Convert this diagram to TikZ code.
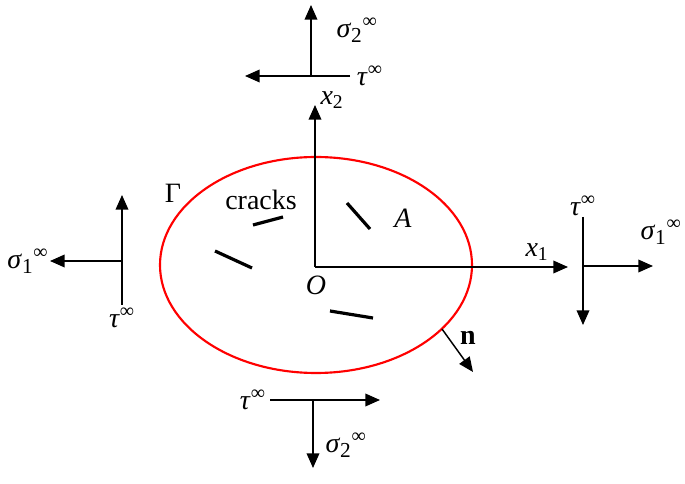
\documentclass[tikz,border=0pt]{standalone}
\usepackage{fontspec}
\setmainfont{Liberation Serif}
\usetikzlibrary{positioning,arrows.meta}
\tikzset{
  sageata/.style  = {-{Triangle[length=11pt,width=9.5pt]}, line width=1.1pt},
  linie/.style    = {line width=1.1pt},
  fisura/.style   = {line width=2.4pt},
  contur/.style   = {draw=red, line width=1.6pt},
  eticheta/.style = {font=\fontsize{21}{25}\selectfont, inner sep=1pt}
}
\newcommand{\infsus}{\textsuperscript{\fontsize{15}{15}\selectfont ∞}}
\newcommand{\sig}[1]{\textit{σ}\textsubscript{\fontsize{16}{16}\selectfont #1}\infsus}
\newcommand{\tauinf}{\textit{τ}\infsus}

\begin{document}
\begin{tikzpicture}[x=0.75pt, y=-0.75pt]
        \useasboundingbox (0,0) rectangle (685,484);

        % domeniul si axele
        \draw[contur] (316,265) ellipse [x radius=156, y radius=108];
        \coordinate (O) at (315,267);
        \coordinate (x2v) at (315,105);
        \coordinate (x1v) at (568,267);
        \draw[sageata] (O) -- (x2v);
        \draw[sageata] (O) -- (x1v);
        \node[eticheta] (lx2) at (332,100) {\textit{x}\textsubscript{2}};
        \node[eticheta] (lx1) at (537,252) {\textit{x}\textsubscript{1}};
        \node[eticheta] (lO) at (316,285) {\textit{O}};
        \node[eticheta] (lA) at (403,218) {\textit{A}};
        \node[eticheta] (lG) at (173,193) {Γ};
        \node[eticheta] (lcr) at (261,200) {cracks};

        % fisuri
        \coordinate (f1a) at (253,225); \coordinate (f1b) at (283,217);
        \coordinate (f2a) at (215,251); \coordinate (f2b) at (252,268);
        \coordinate (f3a) at (347,203); \coordinate (f3b) at (370,229);
        \coordinate (f4a) at (330,311); \coordinate (f4b) at (373,318);
        \draw[fisura] (f1a) -- (f1b);
        \draw[fisura] (f2a) -- (f2b);
        \draw[fisura] (f3a) -- (f3b);
        \draw[fisura] (f4a) -- (f4b);

        % normala
        \coordinate (n0) at (442,329);
        \coordinate (n1) at (473,372);
        \draw[sageata] (n0) -- (n1);
        \node[eticheta] (ln) at (468,338) {\textbf{n}};

        % tensiuni la dreapta
        \coordinate (R) at (583,266);
        \coordinate (Rsus) at (583,217);
        \coordinate (Rjos) at (583,325);
        \coordinate (Rdr) at (653,266);
        \draw[linie] (Rsus) -- (R);
        \draw[sageata] (R) -- (Rjos);
        \draw[sageata] (R) -- (Rdr);
        \node[eticheta, above=0pt of Rsus] (tR) {\tauinf};
        \node[eticheta] (sR) at (661,232) {\sig{1}};

        % tensiuni la stanga
        \coordinate (L) at (122,261);
        \coordinate (Lsus) at (122,195);
        \coordinate (Ljos) at (122,305);
        \coordinate (Lst) at (50,261);
        \draw[linie] (Ljos) -- (L);
        \draw[sageata] (L) -- (Lsus);
        \draw[sageata] (L) -- (Lst);
        \node[eticheta, below=1pt of Ljos] (tL) {\tauinf};
        \node[eticheta, left=0pt of Lst] (sL) {\sig{1}};

        % tensiuni sus
        \coordinate (T) at (311,76);
        \coordinate (Tsus) at (311,5);
        \coordinate (Tdr) at (350,76);
        \coordinate (Tst) at (245,76);
        \draw[linie] (Tdr) -- (T);
        \draw[sageata] (T) -- (Tsus);
        \draw[sageata] (T) -- (Tst);
        \node[eticheta, right=4pt of Tdr] (tT) {\tauinf};
        \node[eticheta] (sT) at (357,30) {\sig{2}};

        % tensiuni jos
        \coordinate (B) at (313,400);
        \coordinate (Bst) at (270,400);
        \coordinate (Bdr) at (380,400);
        \coordinate (Bjos) at (313,468);
        \draw[linie] (Bst) -- (B);
        \draw[sageata] (B) -- (Bdr);
        \draw[sageata] (B) -- (Bjos);
        \node[eticheta, left=2pt of Bst] (tB) {\tauinf};
        \node[eticheta] (sB) at (346,445) {\sig{2}};
    \end{tikzpicture}
\end{document}
